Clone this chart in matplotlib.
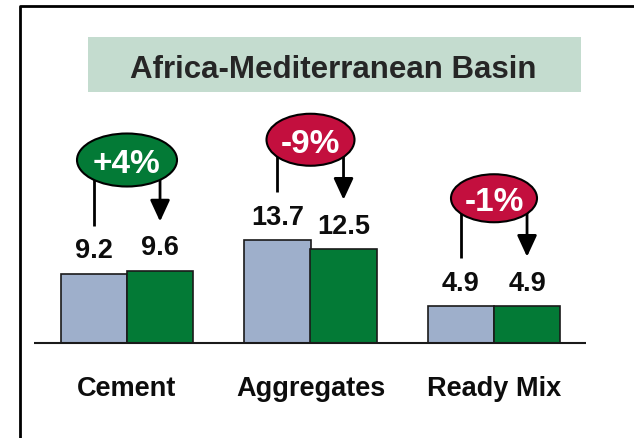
import numpy as np
import matplotlib.pyplot as plt
from matplotlib.patches import Ellipse
from matplotlib.lines import Line2D

# ---- data ----
categories = ["Cement", "Aggregates", "Ready Mix"]
prev_vals = [9.2, 13.7, 4.9]
curr_vals = [9.6, 12.5, 4.9]
changes = ["+4%", "-9%", "-1%"]
title = "Africa-Mediterranean Basin"

# ---- style / layout ----
W_PX, H_PX, DPI = 634, 439, 100
C_BLUE = "#9eafcb"
C_GREEN = "#037a36"
C_RED = "#c30f3e"
C_TITLE_BG = "#c4dccf"
C_TEXT = "#0d0d0d"
FONT = "Liberation Sans"

X0_PX = 127.0        # pixel x of first group centre
X_STEP_PX = 183.5    # pixels between groups
BASE_PX = 344.0      # pixel y of baseline
Y_SCALE = 7.5        # pixels per unit

BAR_W = 0.36
bubble_y = [24.4, 27.1, 19.3]
bubble_w_px = [100, 88, 86]
bubble_h_px = [53, 52, 48]
bubble_colors = [C_GREEN, C_RED, C_RED]

plt.rcParams["font.family"] = [FONT, "DejaVu Sans"]

fig = plt.figure(figsize=(W_PX / DPI, H_PX / DPI), dpi=DPI)
ax = fig.add_axes([0, 0, 1, 1])
ax.set_xlim(-X0_PX / X_STEP_PX, (W_PX - X0_PX) / X_STEP_PX)
ax.set_ylim(-(H_PX - BASE_PX) / Y_SCALE, BASE_PX / Y_SCALE)
ax.axis("off")

x = np.arange(len(categories))
off = BAR_W / 2
ax.bar(x - off, prev_vals, BAR_W, color=C_BLUE, edgecolor="#1a1a1a", linewidth=1.2, zorder=2)
ax.bar(x + off, curr_vals, BAR_W, color=C_GREEN, edgecolor="#1a1a1a", linewidth=1.2, zorder=2)

# baseline
ax.plot([(34 - X0_PX) / X_STEP_PX, (586 - X0_PX) / X_STEP_PX], [0, 0],
        color="#1a1a1a", lw=1.5, zorder=3, solid_capstyle="butt")

for i, (p, c) in enumerate(zip(prev_vals, curr_vals)):
    ax.text(i - off, p + 2.2, f"{p:.1f}", ha="center", va="baseline",
            fontsize=19.5, fontweight="bold", color=C_TEXT)
    ax.text(i + off, c + 2.2, f"{c:.1f}", ha="center", va="baseline",
            fontsize=19.5, fontweight="bold", color=C_TEXT)
    # connector: left plain line, right arrow
    ax.plot([i - off, i - off], [bubble_y[i], p + 6.4], color="black", lw=2.0,
            zorder=4, solid_capstyle="butt")
    ax.annotate("", xy=(i + off, c + 6.6), xytext=(i + off, bubble_y[i]),
                arrowprops=dict(arrowstyle="-|>,head_length=1.3,head_width=0.6",
                                mutation_scale=10, color="black", lw=2.0,
                                shrinkA=0, shrinkB=0), zorder=4)
    ell = Ellipse((i, bubble_y[i]), bubble_w_px[i] / X_STEP_PX, bubble_h_px[i] / Y_SCALE,
                  facecolor=bubble_colors[i], edgecolor="black", lw=1.5, zorder=5)
    ax.add_patch(ell)
    ax.text(i, bubble_y[i], changes[i], ha="center", va="center_baseline",
            fontsize=24, fontweight="bold", color="white", zorder=6)
    ax.text(i, -(386 - BASE_PX) / Y_SCALE, categories[i], ha="center", va="center_baseline",
            fontsize=19.5, fontweight="bold", color=C_TEXT)

# title box
fig.patches.append(plt.Rectangle((88 / W_PX, 1 - 93 / H_PX), (581 - 88) / W_PX, (93 - 38) / H_PX,
                                 transform=fig.transFigure, facecolor=C_TITLE_BG,
                                 edgecolor="none", zorder=1))
fig.text(333 / W_PX, 1 - 66 / H_PX, title, ha="center", va="center_baseline",
         fontsize=22.5, fontweight="bold", color="#262626", zorder=3)

# outer frame (left and top edges)
fig.add_artist(Line2D([20 / W_PX, 20 / W_PX, 1], [0, 1 - 7 / H_PX, 1 - 7 / H_PX],
                      transform=fig.transFigure, color="black", lw=2.0))

fig.savefig("out.png", dpi=DPI)
